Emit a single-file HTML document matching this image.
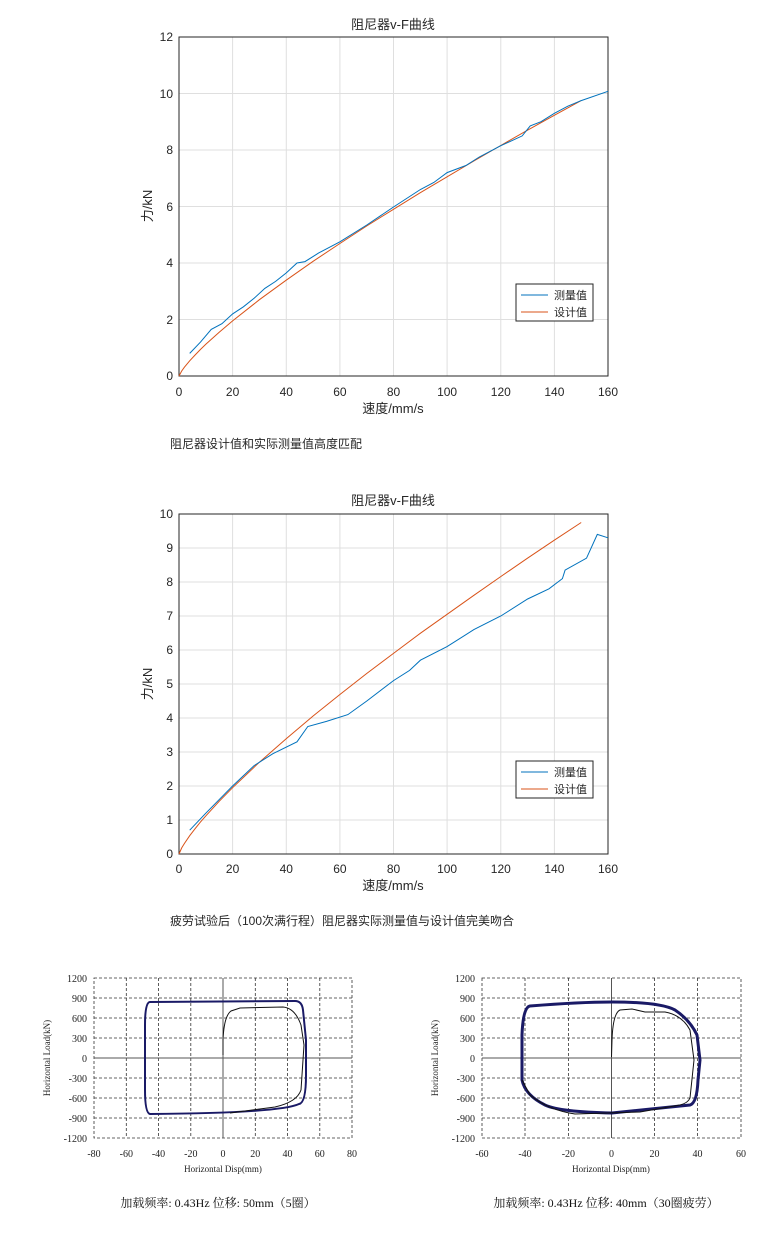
<!DOCTYPE html>
<html><head><meta charset="utf-8"><style>
body{margin:0;background:#fff}
svg{display:block}
.t{font-family:"Liberation Sans","Noto Sans CJK SC",sans-serif;fill:#262626}
.s{font-family:"Liberation Serif","Noto Serif CJK SC",serif;fill:#222}
</style></head><body>
<svg width="765" height="1257" viewBox="0 0 765 1257" xmlns="http://www.w3.org/2000/svg">
<!-- Chart 1 -->
<g>
<rect x="179" y="37" width="429" height="339" fill="#fff" stroke="#262626" stroke-width="1"/>
<g stroke="#dfdfdf" stroke-width="1">
<line x1="232.6" y1="37" x2="232.6" y2="376"/><line x1="286.3" y1="37" x2="286.3" y2="376"/><line x1="339.9" y1="37" x2="339.9" y2="376"/><line x1="393.5" y1="37" x2="393.5" y2="376"/><line x1="447.1" y1="37" x2="447.1" y2="376"/><line x1="500.8" y1="37" x2="500.8" y2="376"/><line x1="554.4" y1="37" x2="554.4" y2="376"/>
<line x1="179" y1="319.5" x2="608" y2="319.5"/><line x1="179" y1="263" x2="608" y2="263"/><line x1="179" y1="206.5" x2="608" y2="206.5"/><line x1="179" y1="150" x2="608" y2="150"/><line x1="179" y1="93.5" x2="608" y2="93.5"/>
</g>
<rect x="179" y="37" width="429" height="339" fill="none" stroke="#262626"/>
<g class="t" font-size="12" text-anchor="end">
<text x="173" y="380">0</text><text x="173" y="324">2</text><text x="173" y="267">4</text><text x="173" y="211">6</text><text x="173" y="154">8</text><text x="173" y="98">10</text><text x="173" y="41">12</text></g>
<g class="t" font-size="12" text-anchor="middle">
<text x="179" y="396">0</text><text x="232.6" y="396">20</text><text x="286.3" y="396">40</text><text x="339.9" y="396">60</text><text x="393.5" y="396">80</text><text x="447.1" y="396">100</text><text x="500.8" y="396">120</text><text x="554.4" y="396">140</text><text x="608" y="396">160</text>
<text x="393" y="29" font-size="13">阻尼器v-F曲线</text>
<text x="393" y="413" font-size="13">速度/mm/s</text>
<text transform="translate(152,206) rotate(-90)" font-size="13">力/kN</text></g>
<polyline fill="none" stroke="#D95319" stroke-width="1" points="179,376 181.7,371 184.4,367.2 189.7,360.8 195.1,355 200.4,349.5 205.8,344.3 219.2,332.2 232.6,320.9 259.4,299.7 286.2,280.2 313.1,261.3 339.9,243.5 366.7,226 393.5,209.3 420.3,192.7 447.1,176.8 473.9,161 500.7,145.5 527.5,130.2 554.3,115.3 581.2,100.6"/>
<polyline fill="none" stroke="#0072BD" stroke-width="1" points="189.7,353.4 200.5,342.1 211.2,329.4 221.9,323.7 232.6,313.9 243.4,306.8 254.1,298.3 264.8,288.4 275.6,281.4 286.3,272.9 297,263 305,261.6 318.5,253.1 329.2,247.4 339.9,241.8 366.8,225 393.5,207 420.4,189.5 433.8,182.5 447.1,172.6 465.9,165.5 479.3,157 500.8,145.7 522.2,135.9 530.2,125.9 541,121.7 554.4,113.3 567.8,106.2 581.2,100.6 608,91.3"/>
<rect x="516" y="284" width="77" height="37" fill="#fff" stroke="#262626"/>
<line x1="521" y1="295" x2="548" y2="295" stroke="#0072BD"/>
<line x1="521" y1="312" x2="548" y2="312" stroke="#D95319"/>
<g class="t" font-size="11"><text x="554" y="299">测量值</text><text x="554" y="316">设计值</text></g>
<text class="t" x="170" y="448" font-size="12" fill="#111">阻尼器设计值和实际测量值高度匹配</text>
</g>
<!-- Chart 2 -->
<g>
<g stroke="#dfdfdf" stroke-width="1">
<line x1="232.6" y1="514" x2="232.6" y2="854"/><line x1="286.3" y1="514" x2="286.3" y2="854"/><line x1="339.9" y1="514" x2="339.9" y2="854"/><line x1="393.5" y1="514" x2="393.5" y2="854"/><line x1="447.1" y1="514" x2="447.1" y2="854"/><line x1="500.8" y1="514" x2="500.8" y2="854"/><line x1="554.4" y1="514" x2="554.4" y2="854"/>
<line x1="179" y1="820" x2="608" y2="820"/><line x1="179" y1="786" x2="608" y2="786"/><line x1="179" y1="752" x2="608" y2="752"/><line x1="179" y1="718" x2="608" y2="718"/><line x1="179" y1="684" x2="608" y2="684"/><line x1="179" y1="650" x2="608" y2="650"/><line x1="179" y1="616" x2="608" y2="616"/><line x1="179" y1="582" x2="608" y2="582"/><line x1="179" y1="548" x2="608" y2="548"/>
</g>
<rect x="179" y="514" width="429" height="340" fill="none" stroke="#262626"/>
<g class="t" font-size="12" text-anchor="end">
<text x="173" y="858">0</text><text x="173" y="824">1</text><text x="173" y="790">2</text><text x="173" y="756">3</text><text x="173" y="722">4</text><text x="173" y="688">5</text><text x="173" y="654">6</text><text x="173" y="620">7</text><text x="173" y="586">8</text><text x="173" y="552">9</text><text x="173" y="518">10</text></g>
<g class="t" font-size="12" text-anchor="middle">
<text x="179" y="873">0</text><text x="232.6" y="873">20</text><text x="286.3" y="873">40</text><text x="339.9" y="873">60</text><text x="393.5" y="873">80</text><text x="447.1" y="873">100</text><text x="500.8" y="873">120</text><text x="554.4" y="873">140</text><text x="608" y="873">160</text>
<text x="393" y="505" font-size="13">阻尼器v-F曲线</text>
<text x="393" y="890" font-size="13">速度/mm/s</text>
<text transform="translate(152,684) rotate(-90)" font-size="13">力/kN</text></g>
<polyline fill="none" stroke="#D95319" stroke-width="1" points="179,854 181.7,847.9 184.4,843.5 189.7,835.7 195.1,828.7 200.4,822.1 205.8,815.9 219.2,801.3 232.6,787.7 259.4,762.2 286.2,738.7 313.1,716 339.9,694.5 366.7,673.5 393.5,653.4 420.3,633.3 447.1,614.3 473.9,595.3 500.7,576.6 527.5,558.2 554.3,540.2 581.2,522.5"/>
<polyline fill="none" stroke="#0072BD" stroke-width="1" points="189.7,830.2 205.8,813.2 232.6,786 254.1,765.6 272.9,753.7 297,741.8 307.8,726.5 326.5,721.4 347.9,714.6 366.8,701 393.5,680.6 409.6,670.4 420.4,660.2 447.1,646.6 473.9,629.6 500.8,616 527.6,599 549,588.8 562.4,578.6 565.1,570.1 586.5,558.2 597.3,534.4 608,537.8"/>
<rect x="516" y="761" width="77" height="37" fill="#fff" stroke="#262626"/>
<line x1="521" y1="772" x2="548" y2="772" stroke="#0072BD"/>
<line x1="521" y1="789" x2="548" y2="789" stroke="#D95319"/>
<g class="t" font-size="11"><text x="554" y="776">测量值</text><text x="554" y="793">设计值</text></g>
<text class="t" x="170" y="925" font-size="12" fill="#111">疲劳试验后（100次满行程）阻尼器实际测量值与设计值完美吻合</text>
</g>
<!-- Bottom left -->
<g>
<g stroke="#333" stroke-width="0.8" stroke-dasharray="3,2" fill="none">
<rect x="94" y="978" width="258" height="160"/>
<line x1="126.3" y1="978" x2="126.3" y2="1138"/><line x1="158.5" y1="978" x2="158.5" y2="1138"/><line x1="190.8" y1="978" x2="190.8" y2="1138"/><line x1="255.3" y1="978" x2="255.3" y2="1138"/><line x1="287.5" y1="978" x2="287.5" y2="1138"/><line x1="319.8" y1="978" x2="319.8" y2="1138"/>
<line x1="94" y1="998" x2="352" y2="998"/><line x1="94" y1="1018" x2="352" y2="1018"/><line x1="94" y1="1038" x2="352" y2="1038"/><line x1="94" y1="1078" x2="352" y2="1078"/><line x1="94" y1="1098" x2="352" y2="1098"/><line x1="94" y1="1118" x2="352" y2="1118"/>
</g>
<line x1="223" y1="978" x2="223" y2="1138" stroke="#555"/><line x1="94" y1="1058" x2="352" y2="1058" stroke="#555"/>
<path d="M150,1002 L295,1001 Q302,1001 303,1010 L306,1040 L306,1075 Q306,1103 299,1104 Q280,1113 150,1114 Q145,1113 145,1090 L145,1025 Q145,1002 150,1002 Z" fill="none" stroke="#1a1a66" stroke-width="2"/>
<path d="M223,1055 L223,1040 Q224,1016 231,1011 L240,1008 L283,1007 Q295,1008 301,1025 L304,1045 L301,1090 Q297,1102 275,1107 L230,1113" fill="none" stroke="#111" stroke-width="1"/>
<g class="s" font-size="10" text-anchor="end">
<text x="87" y="982">1200</text><text x="87" y="1002">900</text><text x="87" y="1022">600</text><text x="87" y="1042">300</text><text x="87" y="1062">0</text><text x="87" y="1082">-300</text><text x="87" y="1102">-600</text><text x="87" y="1122">-900</text><text x="87" y="1142">-1200</text></g>
<g class="s" font-size="10" text-anchor="middle">
<text x="94" y="1157">-80</text><text x="126.3" y="1157">-60</text><text x="158.5" y="1157">-40</text><text x="190.8" y="1157">-20</text><text x="223" y="1157">0</text><text x="255.3" y="1157">20</text><text x="287.5" y="1157">40</text><text x="319.8" y="1157">60</text><text x="352" y="1157">80</text>
<text x="223" y="1172" font-size="9">Horizontal Disp(mm)</text>
<text transform="translate(50,1058) rotate(-90)" font-size="9">Horizontal Load(kN)</text>
<text x="218" y="1207" font-size="12" fill="#111">加载频率: 0.43Hz  位移: 50mm（5圈）</text></g>
</g>
<!-- Bottom right -->
<g>
<g stroke="#333" stroke-width="0.8" stroke-dasharray="3,2" fill="none">
<rect x="482" y="978" width="259" height="160"/>
<line x1="525" y1="978" x2="525" y2="1138"/><line x1="568.4" y1="978" x2="568.4" y2="1138"/><line x1="654.5" y1="978" x2="654.5" y2="1138"/><line x1="697.5" y1="978" x2="697.5" y2="1138"/>
<line x1="482" y1="998" x2="741" y2="998"/><line x1="482" y1="1018" x2="741" y2="1018"/><line x1="482" y1="1038" x2="741" y2="1038"/><line x1="482" y1="1078" x2="741" y2="1078"/><line x1="482" y1="1098" x2="741" y2="1098"/><line x1="482" y1="1118" x2="741" y2="1118"/>
</g>
<line x1="611.5" y1="978" x2="611.5" y2="1138" stroke="#555"/><line x1="482" y1="1058" x2="741" y2="1058" stroke="#555"/>
<path d="M530,1006 Q580,1002 612,1002 Q660,1002 675,1010 Q690,1020 697,1035 L700,1060 L698,1080 Q697,1103 690,1105 Q640,1110 612,1113 Q560,1112 545,1105 Q525,1095 522,1080 L522,1035 Q523,1007 530,1006 Z" fill="none" stroke="#1a1a66" stroke-width="3"/>
<path d="M611.5,1057 L612,1040 Q613,1013 620,1010 L632,1009 L645,1012 L665,1012 Q682,1015 690,1030 L694,1060 L690,1098 Q688,1103 680,1105 L640,1112 L575,1114 Q548,1110 530,1095 L522,1080" fill="none" stroke="#111" stroke-width="1"/>
<g class="s" font-size="10" text-anchor="end">
<text x="475" y="982">1200</text><text x="475" y="1002">900</text><text x="475" y="1022">600</text><text x="475" y="1042">300</text><text x="475" y="1062">0</text><text x="475" y="1082">-300</text><text x="475" y="1102">-600</text><text x="475" y="1122">-900</text><text x="475" y="1142">-1200</text></g>
<g class="s" font-size="10" text-anchor="middle">
<text x="482" y="1157">-60</text><text x="525" y="1157">-40</text><text x="568.4" y="1157">-20</text><text x="611.5" y="1157">0</text><text x="654.5" y="1157">20</text><text x="697.5" y="1157">40</text><text x="741" y="1157">60</text>
<text x="611" y="1172" font-size="9">Horizontal Disp(mm)</text>
<text transform="translate(438,1058) rotate(-90)" font-size="9">Horizontal Load(kN)</text>
<text x="606" y="1207" font-size="12" fill="#111">加载频率: 0.43Hz  位移: 40mm（30圈疲劳）</text></g>
</g>
</svg>
</body></html>
